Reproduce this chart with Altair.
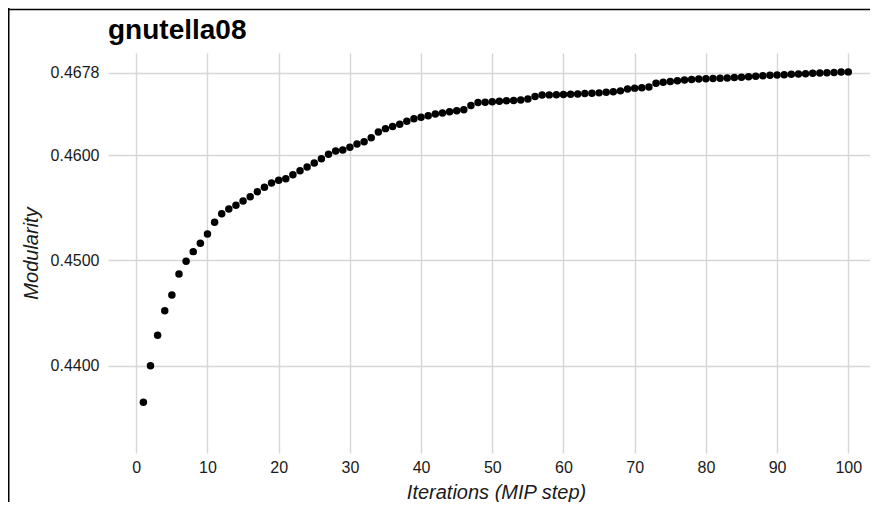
import altair as alt
import pandas as pd

iterations = list(range(1, 101))
modularity = [
    0.43656, 0.44003, 0.44291, 0.44524, 0.44673, 0.44872, 0.44992, 0.45084, 0.45163, 0.45251,
    0.45362, 0.45444, 0.45488, 0.45523, 0.45564, 0.45605, 0.45652, 0.45694, 0.45735, 0.45760,
    0.45775, 0.45813, 0.45851, 0.45886, 0.45924, 0.45965, 0.46007, 0.46038, 0.46047, 0.46073,
    0.46104, 0.46126, 0.46164, 0.46218, 0.46250, 0.46270, 0.46291, 0.46319, 0.46344, 0.46357,
    0.46373, 0.46389, 0.46398, 0.46410, 0.46420, 0.46430, 0.46469, 0.46497, 0.46500, 0.46504,
    0.46510, 0.46514, 0.46517, 0.46522, 0.46530, 0.46555, 0.46569, 0.46570, 0.46572, 0.46573,
    0.46576, 0.46579, 0.46582, 0.46586, 0.46589, 0.46594, 0.46599, 0.46608, 0.46625, 0.46634,
    0.46637, 0.46645, 0.46680, 0.46690, 0.46697, 0.46703, 0.46710, 0.46716, 0.46721, 0.46723,
    0.46726, 0.46728, 0.46731, 0.46734, 0.46737, 0.46742, 0.46746, 0.46752, 0.46755, 0.46758,
    0.46761, 0.46765, 0.46768, 0.46771, 0.46774, 0.46777, 0.46780, 0.46783, 0.46786, 0.46788,
]
x_ticks = [0, 10, 20, 30, 40, 50, 60, 70, 80, 90, 100]
y_ticks = [0.44, 0.45, 0.46, 0.4678]

df = pd.DataFrame({"iteration": iterations, "modularity": modularity})

FONT = "Liberation Sans"

points = alt.Chart(df).mark_circle(size=56, color="black", opacity=1).encode(
    x=alt.X(
        "iteration:Q",
        scale=alt.Scale(domain=[-3.97, 103.05], nice=False, zero=False),
        axis=alt.Axis(
            values=x_ticks,
            title="Iterations (MIP step)",
            labelPadding=6,
            titleX=388,
            titleY=45,
            titleAlign="center",
            titleBaseline="alphabetic",
        ),
    ),
    y=alt.Y(
        "modularity:Q",
        scale=alt.Scale(domain=[0.43175, 0.46967], nice=False, zero=False),
        axis=alt.Axis(
            values=y_ticks,
            format=".4f",
            title="Modularity",
            labelPadding=9,
            titleX=-71,
            titleY=200,
            titleAlign="center",
            titleBaseline="alphabetic",
        ),
    ),
)

frame_df = pd.DataFrame({"k": [0]})
left_border = alt.Chart(frame_df).mark_rule(color="black", strokeWidth=1.5).encode(
    x=alt.value(-99.25), y=alt.value(-45), y2=alt.value(449)
)
top_border = alt.Chart(frame_df).mark_rule(color="black", strokeWidth=1.5).encode(
    x=alt.value(-100), x2=alt.value(762), y=alt.value(-43.5)
)

chart = (
    alt.layer(points, left_border, top_border)
    .properties(
        width=762,
        height=400,
        autosize=alt.AutoSizeParams(type="none"),
        padding={"left": 100, "top": 45, "right": 0, "bottom": 49},
        title=alt.Title(
            "gnutella08",
            anchor="start",
            frame="group",
            font=FONT,
            fontSize=28,
            fontWeight="bold",
            color="black",
            baseline="bottom",
            offset=-36,
            dy=30,
        ),
    )
    .configure_view(stroke=None)
    .configure_axis(
        domain=False,
        ticks=False,
        grid=True,
        gridColor="#d6d6d6",
        gridWidth=1.4,
        labelFont=FONT,
        labelFontSize=16,
        labelColor="#1a1a1a",
        titleFont=FONT,
        titleFontSize=20,
        titleFontStyle="italic",
        titleFontWeight="normal",
        titleColor="#1a1a1a",
    )
)

chart.save("out.html", embed_options={"renderer": "svg", "actions": False})
